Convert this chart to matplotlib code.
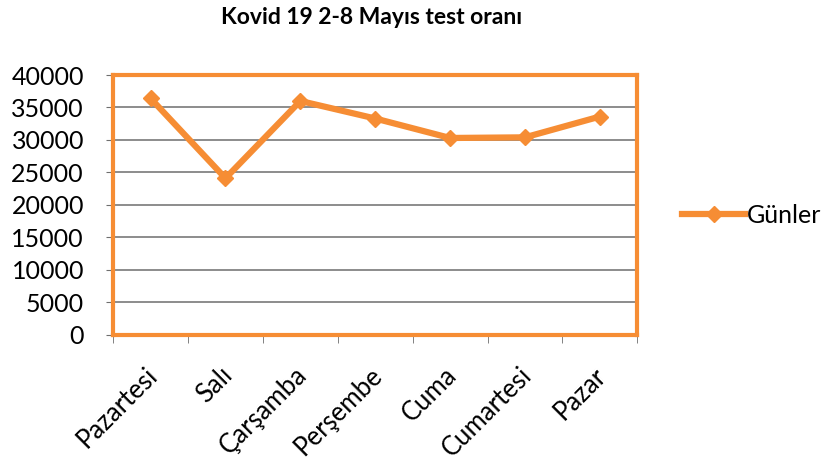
import numpy as np
import matplotlib.pyplot as plt
from matplotlib.transforms import ScaledTranslation

days = ['Pazartesi', 'Salı', 'Çarşamba', 'Perşembe', 'Cuma', 'Cumartesi', 'Pazar']
tests = [36400, 24100, 36000, 33300, 30300, 30400, 33600]
series_name = 'Günler'
title = 'Kovid 19 2-8 Mayıs test oranı'

orange = '#F68D34'
grid_col = '#6E6E6E'
plt.rcParams['font.family'] = ['Lato', 'DejaVu Sans']

fig = plt.figure(figsize=(8.32, 4.63), dpi=100)
ax = fig.add_axes([0.136, 0.277, 0.630, 0.561])

x = np.arange(len(days))
ax.plot(x, tests, color=orange, linewidth=4.5, marker='D', markersize=8,
        markerfacecolor=orange, markeredgecolor=orange, label=series_name, zorder=3)

ax.set_xlim(-0.5, len(days) - 0.5)
ax.set_ylim(0, 40000)
ax.set_yticks(np.arange(0, 40001, 5000))
ax.tick_params(axis='y', labelsize=18, length=5, color=grid_col, pad=16)
ax.yaxis.grid(True, color=grid_col, linewidth=1.1)
ax.set_axisbelow(True)

ax.set_xticks(x)
ax.set_xticklabels(days, rotation=45, ha='right', va='top', rotation_mode='anchor', fontsize=18.5)
ax.tick_params(axis='x', length=0, pad=20)
shift = ScaledTranslation(-6 / 100, 0, fig.dpi_scale_trans)
for lbl in ax.get_xticklabels():
    lbl.set_transform(lbl.get_transform() + shift)
ax.set_xticks(np.arange(-0.5, len(days)), minor=True)
ax.tick_params(axis='x', which='minor', length=6, color=grid_col)

for s in ax.spines.values():
    s.set_color(orange)
    s.set_linewidth(3)

fig.suptitle(title, x=0.447, y=0.985, fontsize=16.5, fontweight='bold')
fig.legend(loc='center left', bbox_to_anchor=(0.808, 0.535), frameon=False,
           fontsize=18, handlelength=2.5, handletextpad=0.1, borderaxespad=0)

fig.savefig('out.png', dpi=100)
